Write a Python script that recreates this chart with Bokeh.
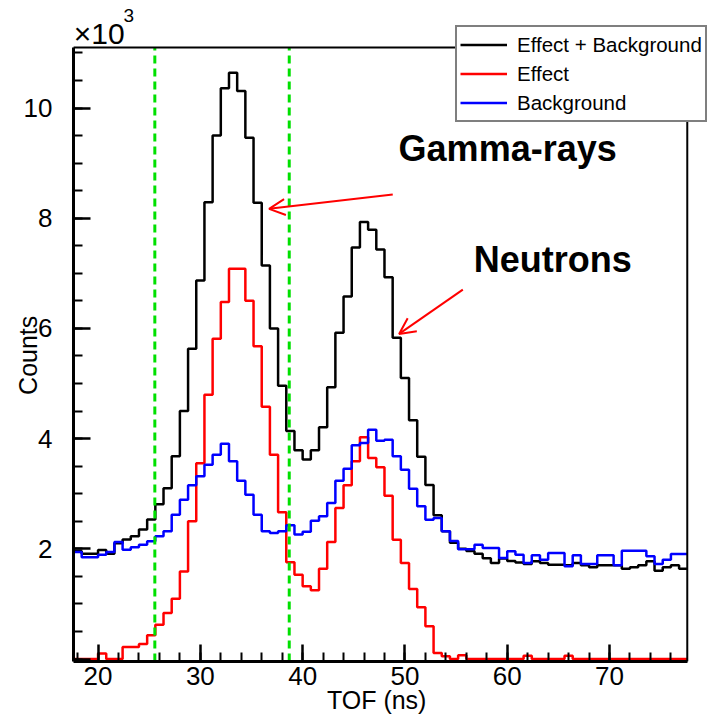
from bokeh.plotting import figure
from bokeh.models import (Range1d, SingleIntervalTicker, Label, Legend,
                          LegendItem, Arrow, OpenHead, BoxAnnotation)
from bokeh.embed import file_html
from bokeh.resources import INLINE

# ---- data (counts per 0.8 ns TOF bin) ----
bin_start = 17.6
bin_width = 0.8

total = [1960, 1910, 1910, 1980, 1910, 2100, 2170, 2230, 2350, 2530,
         2810, 3100, 3680, 4500, 5630, 6870, 8290, 9500, 10360, 10640,
         10310, 9460, 8280, 7140, 6000, 4960, 4140, 3790, 3620, 3790,
         4205, 4930, 5920, 6580, 7470, 7930, 7790, 7430, 6930, 5830,
         5100, 4335, 3670, 3160, 2610, 2317, 2110, 2000, 1960, 1910,
         1830, 1742, 1825, 1780, 1750, 1724, 1773, 1742, 1712, 1712,
         1700, 1742, 1700, 1664, 1700, 1700, 1700, 1639, 1664, 1700,
         1773, 1603, 1664, 1700, 1639]

effect = [0, 0, 0, 100, 0, 0, 220, 220, 272, 430,
          623, 835, 1095, 1590, 2499, 3551, 4797, 5813, 6479, 7084,
          7084, 6503, 5675, 4577, 3708, 2665, 1757, 1530, 1319, 1247,
          1639, 2123, 2740, 3152, 3588, 4024, 3648, 3479, 2964, 2165,
          1742, 1270, 938, 593, 109, 49, 0, 70, 0, 0,
          0, 0, 0, 0, 0, 60, 0, 0, 0, 0,
          60, 0, 0, 0, 0, 0, 0, 0, 0, 0,
          0, 0, 0, 0, 0]

background = [1942, 1846, 1846, 1893, 1942, 2123, 1984, 2027, 2075, 2136,
              2227, 2317, 2619, 2891, 3152, 3315, 3526, 3708, 3907, 3588,
              3236, 2982, 2619, 2317, 2287, 2317, 2426, 2262, 2310, 2510,
              2590, 2831, 3236, 3454, 3878, 3920, 4162, 3962, 3980, 3678,
              3436, 3091, 2771, 2528, 2559, 2317, 2140, 1990, 1990, 2075,
              2015, 2015, 1833, 1954, 1893, 1742, 1882, 1802, 1924, 1924,
              1682, 1882, 1724, 1724, 1882, 1882, 1700, 1966, 1966, 1966,
              1864, 1724, 1802, 1906, 1906]

series_names = ["Effect + Background", "Effect", "Background"]
series_colors = ["black", "#ff0000", "#0000ff"]

cut_lines = [25.55, 38.69]
y_tick_labels = {0: "", 2000: "2", 4000: "4", 6000: "6", 8000: "8", 10000: "10"}

# axis box of the histogram
x_lo, x_hi = 17.6, 77.6
y_lo, y_hi = -45, 11098

n_bins = len(total)
edges = [bin_start + bin_width * i for i in range(n_bins + 1)]

FONT = "Liberation Sans"
NBSP = "\u00a0"

# the frame is extended up/right so the legend and multiplier can overlap
# the axis box as in the original; the visible box is drawn explicitly.
p = figure(width=728, height=716, output_backend="svg", toolbar_location=None,
           x_range=Range1d(x_lo, 81.63), y_range=Range1d(y_lo, 11951),
           min_border_left=73, min_border_right=0, min_border_top=0,
           min_border_bottom=55)
p.background_fill_color = "white"
p.border_fill_color = "white"
p.outline_line_color = None
p.xgrid.visible = False
p.ygrid.visible = False

renderers = []
for vals, col in zip([total, effect, background], series_colors):
    r = p.step(edges, list(vals) + [vals[-1]], mode="after",
               line_color=col, line_width=2.5)
    renderers.append(r)

# green cut lines
p.segment(x0=cut_lines, y0=[y_lo] * len(cut_lines), x1=cut_lines,
          y1=[y_hi] * len(cut_lines), line_color="#00e000", line_width=3,
          line_dash="8 5")

# visible axis box
p.add_layout(BoxAnnotation(left=x_lo, right=x_hi, bottom=y_lo, top=y_hi,
                           fill_alpha=0, line_color="black", line_width=2,
                           line_alpha=1))

# axes
p.xaxis.ticker = SingleIntervalTicker(interval=10, num_minor_ticks=5)
p.yaxis.ticker = SingleIntervalTicker(interval=2000, num_minor_ticks=4)
p.xaxis.bounds = (x_lo, x_hi)
p.yaxis.bounds = (y_lo, y_hi)
p.yaxis.major_label_overrides = y_tick_labels
for ax in (p.xaxis, p.yaxis):
    ax.axis_line_width = 3
    ax.axis_line_color = "black"
    ax.major_tick_in = 17
    ax.major_tick_out = 0
    ax.minor_tick_in = 9
    ax.minor_tick_out = 0
    ax.major_tick_line_width = 2.5
    ax.minor_tick_line_width = 2
    ax.major_tick_line_color = "black"
    ax.minor_tick_line_color = "black"
    ax.major_label_text_font = FONT
    ax.major_label_text_font_size = "26px"
    ax.major_label_text_color = "black"
    ax.axis_label_text_font = FONT
    ax.axis_label_text_font_size = "25px"
    ax.axis_label_text_font_style = "normal"
    ax.axis_label_text_color = "black"
p.xaxis.major_label_standoff = 5
p.yaxis.major_label_standoff = 21
# trailing no-break spaces shift the centred titles to the axis-box centre
p.xaxis.axis_label = "TOF (ns)" + NBSP * 7
p.yaxis.axis_label = "Counts" + NBSP * 7
p.xaxis.axis_label_standoff = -2
p.yaxis.axis_label_standoff = -21

# multiplier
p.add_layout(Label(x=17.62, y=11352, text="\u00d710", text_font=FONT,
                   text_font_size="30px", text_align="left",
                   text_baseline="middle", text_color="black"))
p.add_layout(Label(x=22.5, y=11670, text="3", text_font=FONT,
                   text_font_size="19px", text_align="left",
                   text_baseline="middle", text_color="black"))

# annotations
p.add_layout(Label(x=49.38, y=9265, text="Gamma-rays", text_font=FONT,
                   text_font_size="36px", text_font_style="bold",
                   text_baseline="middle", text_color="black"))
p.add_layout(Label(x=56.73, y=7251, text="Neutrons", text_font=FONT,
                   text_font_size="36px", text_font_style="bold",
                   text_baseline="middle", text_color="black"))
p.add_layout(Arrow(end=OpenHead(size=16, line_color="#ff0000", line_width=2),
                   x_start=48.81, y_start=8430, x_end=36.72, y_end=8170,
                   line_color="#ff0000", line_width=2))
p.add_layout(Arrow(end=OpenHead(size=16, line_color="#ff0000", line_width=2),
                   x_start=55.66, y_start=6705, x_end=49.43, y_end=5900,
                   line_color="#ff0000", line_width=2))

legend = Legend(items=[LegendItem(label=n, renderers=[r])
                       for n, r in zip(series_names, renderers)],
                location=(382, 539), orientation="vertical",
                padding=3, spacing=0, margin=0,
                glyph_width=47, glyph_height=29, label_height=29,
                label_standoff=10,
                label_text_font=FONT, label_text_font_size="20.5px",
                label_text_color="black",
                border_line_color="black", border_line_width=2,
                background_fill_color="white", background_fill_alpha=1.0)
p.add_layout(legend, "center")

open("out.html", "w").write(file_html(p, INLINE))
